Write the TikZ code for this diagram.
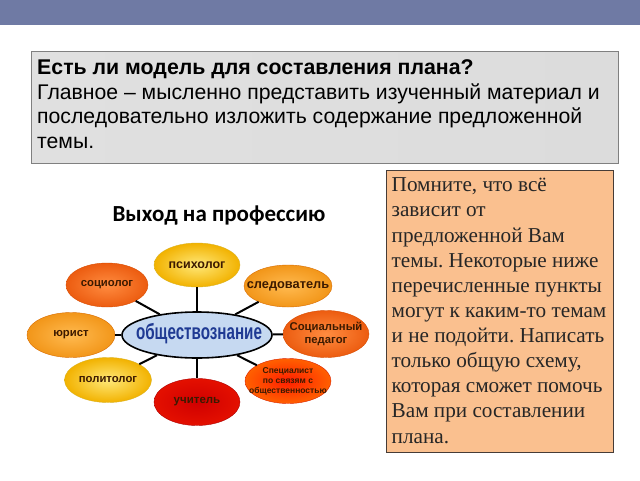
\documentclass[tikz,border=0pt]{standalone}
\usepackage{fontspec}
\usepackage{graphicx}
\setmainfont{Liberation Serif}
\newfontfamily\arialf{Liberation Sans}
\newfontfamily\calf{Carlito}
\usetikzlibrary{shapes.geometric}
\definecolor{barblue}{HTML}{6F7AA4}
\definecolor{peach}{HTML}{FAC08F}
\definecolor{centerblue}{HTML}{C6D9F1}
\definecolor{ctext}{HTML}{1F3A93}
\definecolor{brown}{HTML}{3C1A00}
\frenchspacing
\begin{document}
\begin{tikzpicture}[x=1pt,y=-1pt,
  toptext/.style={anchor=base west,inner sep=0,font=\arialf\fontsize{21.2}{24}\selectfont,text=black},
  sidetext/.style={anchor=base west,inner sep=0,font=\fontsize{21.2}{24}\selectfont,text=black!85},
  sat/.style={ellipse,inner sep=0,draw=#1!85!black,line width=0.4pt},
  yel/.style={sat=yellow!60!orange,inner color={rgb,255:red,255;green,232;blue,120},outer color={rgb,255:red,242;green,178;blue,0}},
  orl/.style={sat=orange,inner color={rgb,255:red,255;green,186;blue,80},outer color={rgb,255:red,242;green,150;blue,25}},
  ord/.style={sat=orange!70!red,inner color={rgb,255:red,255;green,140;blue,64},outer color={rgb,255:red,236;green,92;blue,16}},
  redb/.style={sat=red!70!orange,inner color={rgb,255:red,255;green,30;blue,0},outer color={rgb,255:red,255;green,96;blue,0}},
  redd/.style={sat=red!80!black,inner color={rgb,255:red,208;green,0;blue,0},outer color={rgb,255:red,228;green,16;blue,0}},
  lbl/.style={text=brown,inner sep=0,align=center},
  conn/.style={line width=2pt,black}
]
\useasboundingbox (0,0) rectangle (640,480);
\fill[white] (0,0) rectangle (640,480);
\fill[barblue] (0,0) rectangle (640,25);

% grey question box
\node[anchor=north west,minimum width=587,minimum height=112,inner sep=0,
  draw={rgb,255:red,128;green,128;blue,128},line width=1pt,
  left color={rgb,255:red,224;green,224;blue,224},middle color={rgb,255:red,170;green,170;blue,170},
  right color={rgb,255:red,220;green,220;blue,220}] (gbox) at (30.5,50.5) {};
\node[toptext,font=\arialf\bfseries\fontsize{21.3}{24}\selectfont] (t1) at (37,74.5) {Есть ли модель для составления плана?};
\node[toptext] (t2) at (37,99) {Главное – мысленно представить изученный материал и};
\node[toptext] (t3) at (37,123.7) {последовательно изложить содержание предложенной};
\node[toptext] (t4) at (37,148.4) {темы.};

% peach note box
\node[anchor=north west,minimum width=227,minimum height=282,inner sep=0,
  draw={rgb,255:red,70;green,60;blue,55},line width=1pt,fill=peach] (pbox) at (386,169.5) {};
\node[sidetext] (s1) at (391.5,191.7) {Помните, что всё};
\node[sidetext] (s2) at (391.5,216.8) {зависит от};
\node[sidetext] (s3) at (391.5,242.0) {предложенной Вам};
\node[sidetext] (s4) at (391.5,267.1) {темы. Некоторые ниже};
\node[sidetext] (s5) at (391.5,292.2) {перечисленные пункты};
\node[sidetext] (s6) at (391.5,317.4) {могут к каким-то темам};
\node[sidetext] (s7) at (391.5,342.5) {и не подойти. Написать};
\node[sidetext] (s8) at (391.5,367.6) {только общую схему,};
\node[sidetext] (s9) at (391.5,392.7) {которая сможет помочь};
\node[sidetext] (s10) at (391.5,417.9) {Вам при составлении};
\node[sidetext] (s11) at (391.5,443.0) {плана.};

% diagram title
\node[anchor=base,inner sep=0,font=\calf\bfseries\fontsize{23}{26}\selectfont] (title) at (219,221) {Выход на профессию};

% centre
\node[ellipse,inner sep=0,minimum width=150,minimum height=46,fill=centerblue,draw=black,line width=1.6pt] (c) at (197,335) {};
\node[inner sep=0,text=ctext,font=\arialf\bfseries\fontsize{22}{24}\selectfont] (ct) at (199,334) {\scalebox{0.69}[1]{обществознание}};

% satellites
\node[yel,minimum width=86,minimum height=44] (psy) at (197,265) {};
\node[lbl,font=\arialf\bfseries\fontsize{12.5}{14}\selectfont] (psyt) at (psy.center) {психолог};
\node[orl,minimum width=88,minimum height=42] (sled) at (288,286) {};
\node[lbl,font=\arialf\bfseries\fontsize{12.8}{14}\selectfont] (sledt) at (sled.center) {следователь};
\node[ord,minimum width=86,minimum height=47] (ped) at (326,334) {};
\node[lbl,font=\arialf\bfseries\fontsize{11.3}{12.7}\selectfont] (pedt) at (ped.center) {Социальный\\педагог};
\node[redb,minimum width=86,minimum height=45] (spec) at (288,381) {};
\node[lbl,font=\arialf\bfseries\fontsize{8.5}{10}\selectfont] (spect) at (spec.center) {Специалист\\по связям с\\общественностью};
\node[redd,minimum width=86,minimum height=47] (uch) at (197,402) {};
\node[lbl,font=\arialf\bfseries\fontsize{11.5}{13}\selectfont] (ucht) at (uch.center) {учитель};
\node[yel,minimum width=87,minimum height=45] (pol) at (108,380) {};
\node[lbl,font=\arialf\bfseries\fontsize{11.3}{13}\selectfont] (polt) at (pol.center) {политолог};
\node[orl,minimum width=88,minimum height=45] (yur) at (71,335) {};
\node[lbl,font=\arialf\bfseries\fontsize{11.3}{13}\selectfont] (yurt) at (yur.center) {юрист};
\node[ord,minimum width=82,minimum height=44] (soc) at (107,285) {};
\node[lbl,font=\arialf\bfseries\fontsize{11.3}{13}\selectfont] (soct) at (soc.center) {социолог};

% connectors
\foreach \s in {psy,sled,ped,spec,uch,pol,yur,soc}
  \draw[conn] (c) -- (\s);
\end{tikzpicture}
\end{document}
